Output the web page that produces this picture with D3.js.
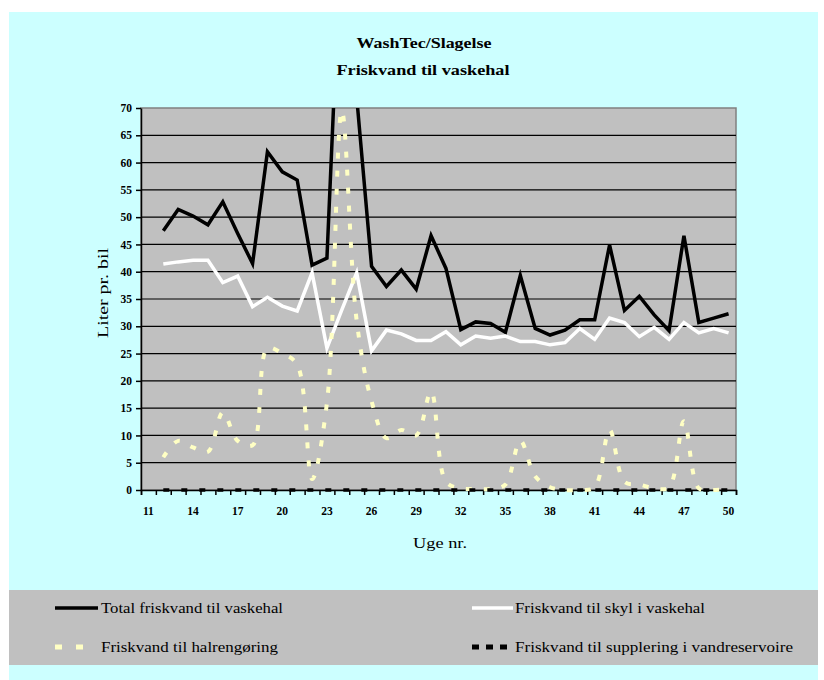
<!DOCTYPE html>
<html><head><meta charset="utf-8">
<script src="https://cdn.jsdelivr.net/npm/d3@7"></script>
<style>body{margin:0;background:#fff}</style>
</head><body><svg id="c" width="824" height="680"></svg>
<script>
const weeks = ["11","12","13","14","15","16","17","18","19","20","21","22","23","24","25","26","27","28","29","30","31","32","33","34","35","36","37","38","39","40","41","42","43","44","45","46","47","48","49","50"];
const xTickLabels = ["11","14","17","20","23","26","29","32","35","38","41","44","47","50"];
const yTicks = [0,5,10,15,20,25,30,35,40,45,50,55,60,65,70];
const total = [null,47.5,51.4,50.2,48.6,52.8,47.0,41.5,62.0,58.3,56.8,41.2,42.5,105,72,41.0,37.3,40.3,36.8,46.6,40.6,29.4,30.8,30.5,28.9,39.3,29.6,28.4,29.3,31.2,31.2,44.9,32.9,35.5,32.1,29.2,46.6,30.7,31.5,32.3];
const skyl = [null,41.4,41.8,42.1,42.1,38.0,39.2,33.6,35.3,33.7,32.8,39.8,26.0,33.0,39.8,25.5,29.3,28.6,27.4,27.4,29.0,26.6,28.2,27.8,28.2,27.2,27.2,26.6,27.0,29.6,27.6,31.5,30.7,28.1,29.8,27.6,30.7,28.8,29.6,28.8];
const halrengoring = [null,6.0,9.0,7.8,7.0,14.2,9.0,8.2,26.0,25.0,23.0,2.0,16.0,69.5,31.0,16.3,9.5,11.0,10.0,18.0,1.5,0.3,0.2,0.2,1.0,9.0,2.5,0.5,0.0,0.0,0.5,11.0,1.5,1.0,0.3,0.5,12.6,0.3,0.0,0.3];
const supplering = [null,0,0,0,0,0,0,0,0,0,0,0,0,0,0,0,0,0,0,0,0,0,0,0,0,0,0,0,0,0,0,0,0,0,0,0,0,0,0,0];
const seriesNames = ["Total friskvand til vaskehal","Friskvand til skyl i vaskehal","Friskvand til halrengøring","Friskvand til supplering i vandreservoire"];

const svg = d3.select("#c");
const serif = "'Liberation Serif','DejaVu Serif',serif";
svg.append("rect").attr("x",9).attr("y",12).attr("width",809).attr("height",668).attr("fill","#CCFFFF");

const L=141, T=108, R=736, B=490;
const x = d3.scaleBand().domain(weeks).range([L,R]);
const xi = d3.scaleLinear().domain([0,weeks.length]).range([L,R]);
const y = d3.scaleLinear().domain([0,70]).range([B,T]);

svg.append("rect").attr("x",L).attr("y",T).attr("width",R-L).attr("height",B-T)
  .attr("fill","#C0C0C0").attr("stroke","#808080").attr("stroke-width",1.5);

// gridlines
svg.append("g").selectAll("line").data(yTicks.filter(d=>d>0&&d<70)).join("line")
  .attr("x1",L).attr("x2",R).attr("y1",d=>y(d)).attr("y2",d=>y(d))
  .attr("stroke","#000").attr("stroke-width",1.2);

// titles
svg.append("text").attr("x",424).attr("y",48).attr("text-anchor","middle")
  .attr("font-family",serif).attr("font-weight","bold").attr("font-size",15.5)
  .attr("textLength",135).attr("lengthAdjust","spacingAndGlyphs").text("WashTec/Slagelse");
svg.append("text").attr("x",423).attr("y",75).attr("text-anchor","middle")
  .attr("font-family",serif).attr("font-weight","bold").attr("font-size",15.5)
  .attr("textLength",173).attr("lengthAdjust","spacingAndGlyphs").text("Friskvand til vaskehal");

// axes
const yAxis = svg.append("g").attr("transform",`translate(${L},0)`)
  .call(d3.axisLeft(y).tickValues(yTicks).tickSize(5).tickSizeOuter(0).tickPadding(4));
yAxis.selectAll("text").attr("font-family",serif).attr("font-weight","bold").attr("font-size",11.5).attr("fill","#000");
yAxis.selectAll("line,path").attr("stroke","#000").attr("stroke-width",1.5);

const xTickAxis = svg.append("g").attr("transform",`translate(0,${B})`)
  .call(d3.axisBottom(xi).ticks(weeks.length).tickFormat("").tickSize(5).tickSizeOuter(5));
xTickAxis.selectAll("line,path").attr("stroke","#000").attr("stroke-width",1.5);

const xLab = svg.append("g").attr("transform",`translate(0,${B})`)
  .call(d3.axisBottom(x).tickValues(xTickLabels).tickSize(0).tickPadding(17));
xLab.select(".domain").remove();
xLab.selectAll("text").attr("font-family",serif).attr("font-weight","bold").attr("font-size",11.5).attr("fill","#000");

svg.append("text").attr("transform","translate(108,293) rotate(-90)").attr("text-anchor","middle")
  .attr("font-family",serif).attr("font-size",15.5).attr("textLength",90).attr("lengthAdjust","spacingAndGlyphs").text("Liter pr. bil");
svg.append("text").attr("x",440).attr("y",548).attr("text-anchor","middle")
  .attr("font-family",serif).attr("font-size",15.5).attr("textLength",54).attr("lengthAdjust","spacingAndGlyphs").text("Uge nr.");

// series
svg.append("clipPath").attr("id","clip").append("rect").attr("x",L).attr("y",T).attr("width",R-L).attr("height",B-T+4);
const g = svg.append("g").attr("clip-path","url(#clip)");
const cx = (i)=>x(weeks[i])+x.bandwidth()/2;
const mk = (curve)=>d3.line().defined(d=>d!=null).x((d,i)=>cx(i)).y(d=>y(d)).curve(curve);
const lineDefs = [
  {data:total, color:"#000", w:3.5, dash:null, curve:d3.curveLinear},
  {data:skyl, color:"#fff", w:3.5, dash:null, curve:d3.curveLinear},
  {data:halrengoring, color:"#FFFFC4", w:4, dash:"6,12", curve:d3.curveCatmullRom},
  {data:supplering, color:"#000", w:3.5, dash:"6,12", curve:d3.curveLinear}
];
lineDefs.forEach(s=>{
  g.append("path").datum(s.data).attr("d",mk(s.curve)).attr("fill","none")
   .attr("stroke",s.color).attr("stroke-width",s.w).attr("stroke-dasharray",s.dash)
   .attr("stroke-linejoin","miter");
});

// legend
svg.append("rect").attr("x",9).attr("y",590).attr("width",809).attr("height",75).attr("fill","#C0C0C0");
const legPos = [
  {x:55,len:43,y:608,ty:613,tx:101,tw:182},
  {x:472,len:41,y:608,ty:613,tx:515,tw:190},
  {x:55,len:42,y:647,ty:652,tx:101,tw:177},
  {x:472,len:36,y:647,ty:652,tx:515,tw:278}];
const legDash = [null,null,"7,14","7,7"];
lineDefs.forEach((s,i)=>{
  const p = legPos[i];
  svg.append("line").attr("x1",p.x).attr("x2",p.x+p.len).attr("y1",p.y).attr("y2",p.y)
    .attr("stroke",s.color).attr("stroke-width",i<2?3.5:5).attr("stroke-dasharray",legDash[i]);
  svg.append("text").attr("x",p.tx).attr("y",p.ty).attr("font-family",serif).attr("font-size",15.5)
    .attr("textLength",p.tw).attr("lengthAdjust","spacingAndGlyphs").text(seriesNames[i]);
});
</script></body></html>
